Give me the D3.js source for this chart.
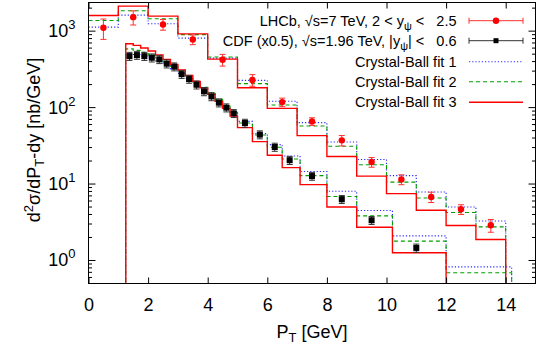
<!DOCTYPE html>
<html>
<head>
<meta charset="utf-8">
<script src="https://cdn.jsdelivr.net/npm/d3@7"></script>
<style>
body { margin: 0; background: #fff; }
text { font-family: "Liberation Sans", Arial, sans-serif; white-space: pre; }
</style>
</head>
<body>
<div id="chart"></div>
<script>
// LHCb data, 1 GeV bins
var lhcbEdges = [0, 1, 2, 3, 4, 5, 6, 7, 8, 9, 10, 11, 12, 13, 14];
var lhcbPt = [0.5, 1.5, 2.5, 3.5, 4.5, 5.5, 6.5, 7.5, 8.5, 9.5, 10.5, 11.5, 12.5, 13.5];
var lhcbVal = [1110, 1524, 1224, 779, 423, 230, 118, 66, 37.3, 19.4, 11.5, 6.78, 4.68, 2.89];
var lhcbErr = [330, 320, 195, 113, 74, 40, 15, 7.6, 5.8, 2.8, 1.7, 1.05, 0.68, 0.55];
var lhcbFit1 = [1128, 1618, 1250, 811, 444, 227, 121, 63.6, 35.5, 20.9, 12.9, 7.88, 5.01, 3.29];
var lhcbFit2 = [1380, 1849, 1452, 900, 458, 206, 108, 57.4, 31.2, 17.9, 10.6, 6.58, 4.24, 2.75];
var lhcbFit3 = [1604, 2122, 1574, 920, 431, 182, 97.7, 43, 22.9, 12.7, 7.5, 4.54, 2.87, 1.88];

// CDF data (x0.5)
var cdfEdges = [1.25, 1.5, 1.75, 2.0, 2.25, 2.5, 2.75, 3.0, 3.25, 3.5, 3.75, 4.0, 4.25, 4.5, 4.75, 5.0,
                5.5, 6.0, 6.5, 7.1, 8.0, 9.0, 10.2, 12.0, 14.2];
var cdfPt = [1.375, 1.625, 1.875, 2.125, 2.375, 2.625, 2.875, 3.125, 3.375, 3.625, 3.875, 4.125, 4.375, 4.625, 4.875,
             5.25, 5.75, 6.25, 6.75, 7.5, 8.5, 9.5, 11];
var cdfVal = [471, 486, 471, 449, 427, 375, 343, 274, 236, 199, 163, 140, 116, 99.8, 84.1,
              62.8, 44.3, 30.5, 20.5, 12.7, 6.32, 3.36, 1.46];
var cdfErr = [57, 58, 57, 54, 51, 45, 41, 33, 28, 24, 20, 17, 14, 12, 10,
              7.5, 5.3, 3.7, 2.5, 1.5, 0.75, 0.4, 0.18];
var cdfFit1 = [511, 496, 474, 447, 408, 367, 321, 280, 241, 207, 176, 149, 124, 104, 88,
               66, 45.7, 32.8, 23.3, 14.6, 8.05, 4.5, 2.1, 0.825];
var cdfFit2 = [586, 560, 527, 489, 447, 396, 346, 298, 256, 217, 184, 154, 128, 105, 86.7,
               62.8, 43.8, 30.3, 21.3, 12.9, 6.86, 3.83, 1.79, 0.69];
var cdfFit3 = [685, 651, 603, 551, 489, 427, 367, 311, 264, 220, 181, 149, 121, 97.7, 77.5,
               54.7, 35.9, 23.8, 16.4, 9.84, 5.01, 2.72, 1.26, null];

var xTicks = [0, 2, 4, 6, 8, 10, 12, 14];
var yTicks = [1, 10, 100, 1000];
var yExps = ['0', '1', '2', '3'];

var legendLabels = ['Crystal-Ball fit 1', 'Crystal-Ball fit 2', 'Crystal-Ball fit 3'];

var width = 542, height = 350;
var margin = {left: 88.5, right: 6.5, top: 2.5, bottom: 66.5};
var chart_width = width - margin.left - margin.right;
var chart_height = height - margin.top - margin.bottom;

var blue = '#2a2aff', green = '#00a000', red = '#ff0000';

var x_scale = d3.scaleLinear().domain([0, 15]).range([0, chart_width]);
var y_scale = d3.scaleLog().domain([0.5, 2370]).range([chart_height, 0]);

var svg = d3.select('#chart')
            .append('svg')
            .attr('width', width)
            .attr('height', height);

svg.append('defs').append('clipPath').attr('id', 'clip')
   .append('rect').attr('width', chart_width).attr('height', chart_height);

var g = svg.append('g').attr('transform', 'translate(' + margin.left + ',' + margin.top + ')');

// histogram path: steps over bins, then drop to the floor
function histPath(edges, vals, fromFloor) {
  var pts = [];
  var last = 0;
  if (fromFloor) pts.push([x_scale(edges[0]), chart_height + 5]);
  for (var i = 0; i < vals.length; i++) {
    if (vals[i] == null) break;
    pts.push([x_scale(edges[i]), y_scale(vals[i])]);
    pts.push([x_scale(edges[i + 1]), y_scale(vals[i])]);
    last = i + 1;
  }
  pts.push([x_scale(edges[last]), chart_height + 5]);
  return d3.line()(pts);
}

var hist = g.append('g').attr('clip-path', 'url(#clip)');

var fits = [
  {data: [lhcbFit1, cdfFit1], color: blue, dash: '1.2,2', w: 1.1},
  {data: [lhcbFit2, cdfFit2], color: green, dash: '4,3', w: 1.1},
  {data: [lhcbFit3, cdfFit3], color: red, dash: null, w: 1.4}
];

fits.forEach(function(f) {
  hist.append('path')
      .attr('d', histPath(lhcbEdges, f.data[0], false))
      .attr('fill', 'none').attr('stroke', f.color)
      .attr('stroke-width', f.w).attr('stroke-dasharray', f.dash);
  hist.append('path')
      .attr('d', histPath(cdfEdges, f.data[1], true))
      .attr('fill', 'none').attr('stroke', f.color)
      .attr('stroke-width', f.w).attr('stroke-dasharray', f.dash);
});

// error bars + points
function drawPoints(pts, vals, errs, color, barColor, shape) {
  var grp = g.append('g');
  var sel = grp.selectAll('g').data(vals).enter().append('g');
  sel.append('line')
     .attr('x1', function(d, i) { return x_scale(pts[i]); })
     .attr('x2', function(d, i) { return x_scale(pts[i]); })
     .attr('y1', function(d, i) { return y_scale(d + errs[i]); })
     .attr('y2', function(d, i) { return y_scale(Math.max(d - errs[i], 0.01)); })
     .attr('stroke', barColor);
  [1, -1].forEach(function(s) {
    sel.append('line')
       .attr('x1', function(d, i) { return x_scale(pts[i]) - 3; })
       .attr('x2', function(d, i) { return x_scale(pts[i]) + 3; })
       .attr('y1', function(d, i) { return y_scale(Math.max(d + s * errs[i], 0.01)); })
       .attr('y2', function(d, i) { return y_scale(Math.max(d + s * errs[i], 0.01)); })
       .attr('stroke', barColor);
  });
  if (shape === 'circle') {
    sel.append('circle')
       .attr('cx', function(d, i) { return x_scale(pts[i]); })
       .attr('cy', function(d) { return y_scale(d); })
       .attr('r', 3.2).attr('fill', color);
  } else {
    sel.append('rect')
       .attr('x', function(d, i) { return x_scale(pts[i]) - 3; })
       .attr('y', function(d) { return y_scale(d) - 3; })
       .attr('width', 6).attr('height', 6).attr('fill', color);
  }
}

drawPoints(cdfPt, cdfVal, cdfErr, '#000', '#333', 'square');
drawPoints(lhcbPt, lhcbVal, lhcbErr, red, '#ff3030', 'circle');

// frame
g.append('rect').attr('width', chart_width).attr('height', chart_height)
 .attr('fill', 'none').attr('stroke', '#000').attr('stroke-width', 1);

// x axis ticks (bottom and top), inward
g.append('g').attr('transform', 'translate(0,' + chart_height + ')')
 .call(d3.axisBottom(x_scale).tickValues(xTicks).tickSizeInner(-6).tickSizeOuter(0).tickPadding(15))
 .call(function(a) {
   a.select('.domain').remove();
   a.selectAll('text').attr('font-size', 18).attr('fill', '#000')
    .attr('font-family', '"Liberation Sans", Arial, sans-serif');
 });
g.append('g')
 .call(d3.axisTop(x_scale).tickValues(xTicks).tickSizeInner(-6).tickSizeOuter(0).tickFormat(''))
 .call(function(a) { a.select('.domain').remove(); });

// y axis ticks (left and right), major and minor, inward
var minor = y_scale.ticks().filter(function(t) { return yTicks.indexOf(t) < 0; });
[0, chart_width].forEach(function(xp, k) {
  var dir = k === 0 ? 1 : -1;
  g.append('g').selectAll('line.maj').data(yTicks).enter().append('line')
   .attr('x1', xp).attr('x2', xp + dir * 7)
   .attr('y1', function(d) { return y_scale(d); })
   .attr('y2', function(d) { return y_scale(d); })
   .attr('stroke', '#000');
  g.append('g').selectAll('line.min').data(minor).enter().append('line')
   .attr('x1', xp).attr('x2', xp + dir * 3.5)
   .attr('y1', function(d) { return y_scale(d); })
   .attr('y2', function(d) { return y_scale(d); })
   .attr('stroke', '#000');
});

// y tick labels 10^n
var ylab = g.append('g').selectAll('text').data(yTicks).enter().append('text')
  .attr('x', -13)
  .attr('y', function(d) { return y_scale(d) + 6; })
  .attr('text-anchor', 'end')
  .attr('font-size', 18);
ylab.append('tspan').text('10');
ylab.append('tspan').attr('dy', -8).attr('font-size', 13)
    .text(function(d, i) { return yExps[i]; });

// axis titles
var xt = svg.append('text')
  .attr('x', margin.left + chart_width / 2)
  .attr('y', 338)
  .attr('text-anchor', 'middle')
  .attr('font-size', 18);
xt.append('tspan').text('P');
xt.append('tspan').attr('dy', 4).attr('font-size', 13).text('T');
xt.append('tspan').attr('dy', -4).text(' [GeV]');

var yt = svg.append('text')
  .attr('transform', 'translate(40,' + (margin.top + chart_height / 2 - 3) + ') rotate(-90)')
  .attr('text-anchor', 'middle')
  .attr('font-size', 18);
yt.append('tspan').text('d');
yt.append('tspan').attr('dy', -7).attr('font-size', 13).text('2');
yt.append('tspan').attr('dy', 7).text('σ/dP');
yt.append('tspan').attr('dy', 4).attr('font-size', 13).text('T');
yt.append('tspan').attr('dy', -4).text('-dy [nb/GeV]');

// legend
var legX = 456.5, lineX1 = 469, lineX2 = 523;
var rows = [20.7, 40.7, 61.7, 81.7, 102.3];

function legendText(y) {
  return svg.append('text').attr('x', legX).attr('y', y + 5)
            .attr('text-anchor', 'end').attr('font-size', 14.5);
}

var t1 = legendText(rows[0]);
t1.append('tspan').text('LHCb, √s=7 TeV, 2 < y');
t1.append('tspan').attr('dy', 4).attr('font-size', 11).text('ψ');
t1.append('tspan').attr('dy', -4).text(' <   2.5');

var t2 = legendText(rows[1]);
t2.append('tspan').text('CDF (x0.5), √s=1.96 TeV, |y');
t2.append('tspan').attr('dy', 4).attr('font-size', 11).text('ψ');
t2.append('tspan').attr('dy', -4).text('| <   0.6');

[[rows[0], red, '#ff3030', 'circle'], [rows[1], '#000', '#333', 'square']].forEach(function(r) {
  var lg = svg.append('g');
  lg.append('line').attr('x1', lineX1).attr('x2', lineX2).attr('y1', r[0]).attr('y2', r[0]).attr('stroke', r[2]);
  [lineX1, lineX2].forEach(function(xx) {
    lg.append('line').attr('x1', xx).attr('x2', xx).attr('y1', r[0] - 3).attr('y2', r[0] + 3).attr('stroke', r[2]);
  });
  if (r[3] === 'circle') {
    lg.append('circle').attr('cx', (lineX1 + lineX2) / 2).attr('cy', r[0]).attr('r', 3.2).attr('fill', r[1]);
  } else {
    lg.append('rect').attr('x', (lineX1 + lineX2) / 2 - 2.5).attr('y', r[0] - 2.5)
      .attr('width', 5).attr('height', 5).attr('fill', r[1]);
  }
});

fits.forEach(function(f, i) {
  legendText(rows[i + 2]).text(legendLabels[i]);
  svg.append('line').attr('x1', lineX1).attr('x2', lineX2)
     .attr('y1', rows[i + 2]).attr('y2', rows[i + 2])
     .attr('stroke', f.color).attr('stroke-width', f.w).attr('stroke-dasharray', f.dash);
});
</script>
</body>
</html>
